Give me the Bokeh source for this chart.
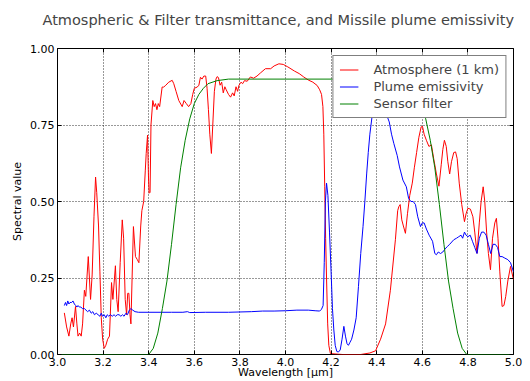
from bokeh.plotting import figure
from bokeh.models import Range1d, LinearAxis, FixedTicker, NumeralTickFormatter, Legend, LegendItem
from bokeh.embed import file_html
from bokeh.resources import INLINE

# ---------------- data ----------------
atm_wl = [3.030, 3.040, 3.050, 3.058, 3.064, 3.070, 3.079, 3.085, 3.090, 3.097, 3.104, 3.110, 3.118, 3.124,
          3.135, 3.145, 3.152, 3.160, 3.167, 3.172, 3.180, 3.186, 3.192, 3.198, 3.205, 3.212, 3.220, 3.228,
          3.237, 3.243, 3.254, 3.260, 3.266, 3.275, 3.284, 3.290, 3.297, 3.303, 3.308, 3.313, 3.318, 3.322,
          3.333, 3.342, 3.350, 3.357, 3.365, 3.370, 3.378, 3.385, 3.389, 3.395, 3.399, 3.402, 3.406, 3.410,
          3.418, 3.424, 3.430, 3.436, 3.442, 3.448, 3.459, 3.466, 3.475, 3.488, 3.503, 3.510, 3.520, 3.532,
          3.547, 3.555, 3.565, 3.575, 3.585, 3.593, 3.600, 3.613, 3.620, 3.627, 3.634, 3.642, 3.650, 3.656,
          3.662, 3.668, 3.675, 3.681, 3.688, 3.695, 3.700, 3.706, 3.713, 3.720, 3.727, 3.734, 3.740, 3.750,
          3.759, 3.768, 3.775, 3.783, 3.790, 3.796, 3.805, 3.812, 3.820, 3.832, 3.846, 3.860, 3.875, 3.890,
          3.912, 3.935, 3.950, 3.971, 3.990, 4.010, 4.040, 4.060, 4.080, 4.100, 4.120, 4.139, 4.150, 4.158,
          4.164, 4.168, 4.172, 4.176, 4.180, 4.185, 4.190, 4.197, 4.250, 4.330, 4.370, 4.395, 4.417, 4.439,
          4.460, 4.482, 4.492, 4.497, 4.503, 4.510, 4.517, 4.526, 4.535, 4.545, 4.556, 4.565, 4.575, 4.585,
          4.595, 4.601, 4.608, 4.618, 4.629, 4.640, 4.650, 4.662, 4.673, 4.683, 4.690, 4.697, 4.705, 4.712,
          4.720, 4.728, 4.738, 4.746, 4.753, 4.762, 4.773, 4.785, 4.792, 4.800, 4.811, 4.822, 4.830, 4.840,
          4.850, 4.858, 4.867, 4.874, 4.882, 4.890, 4.899, 4.908, 4.918, 4.925, 4.932, 4.940, 4.950, 4.958,
          4.966, 4.975, 4.987, 5.000]
atm_val = [0.136, 0.09, 0.06, 0.10, 0.12, 0.09, 0.157, 0.10, 0.06, 0.07, 0.06, 0.10, 0.21, 0.19,
           0.32, 0.18, 0.26, 0.45, 0.58, 0.53, 0.42, 0.27, 0.12, 0.05, 0.02, 0.03, 0.05, 0.06,
           0.235, 0.18, 0.29, 0.18, 0.14, 0.30, 0.44, 0.38, 0.18, 0.13, 0.20, 0.20, 0.13, 0.10,
           0.418, 0.32, 0.31, 0.30, 0.42, 0.47, 0.50, 0.60, 0.657, 0.717, 0.58, 0.527, 0.53, 0.75,
           0.83, 0.81, 0.82, 0.80, 0.82, 0.81, 0.874, 0.874, 0.88, 0.89, 0.896, 0.885, 0.86, 0.83,
           0.81, 0.83, 0.82, 0.81, 0.82, 0.85, 0.87, 0.874, 0.88, 0.906, 0.90, 0.91, 0.91, 0.87,
           0.80, 0.72, 0.657, 0.75, 0.86, 0.90, 0.908, 0.905, 0.88, 0.89, 0.855, 0.875, 0.865, 0.85,
           0.841, 0.855, 0.845, 0.875, 0.86, 0.88, 0.89, 0.885, 0.895, 0.893, 0.907, 0.903, 0.91, 0.92,
           0.934, 0.934, 0.943, 0.95, 0.948, 0.94, 0.926, 0.918, 0.907, 0.897, 0.89, 0.879, 0.865, 0.85,
           0.81, 0.72, 0.55, 0.38, 0.25, 0.10, 0.03, 0.003, 0.0, 0.0, 0.005, 0.012, 0.05, 0.10,
           0.21, 0.375, 0.47, 0.483, 0.49, 0.44, 0.42, 0.396, 0.46, 0.52, 0.56, 0.61, 0.66, 0.71,
           0.744, 0.745, 0.72, 0.70, 0.68, 0.685, 0.64, 0.59, 0.55, 0.62, 0.67, 0.70, 0.68, 0.63,
           0.59, 0.63, 0.66, 0.662, 0.64, 0.56, 0.49, 0.434, 0.46, 0.478, 0.475, 0.45, 0.40, 0.331,
           0.43, 0.50, 0.548, 0.50, 0.40, 0.33, 0.277, 0.38, 0.43, 0.445, 0.38, 0.27, 0.157, 0.16,
           0.19, 0.24, 0.288, 0.244]

plume_wl = [3.030, 3.035, 3.040, 3.045, 3.050, 3.055, 3.062, 3.068, 3.074, 3.080, 3.085, 3.090, 3.096, 3.102,
            3.110, 3.118, 3.125, 3.132, 3.140, 3.148, 3.155, 3.162, 3.170, 3.178, 3.186, 3.192, 3.198, 3.205,
            3.212, 3.218, 3.225, 3.232, 3.240, 3.248, 3.255, 3.262, 3.270, 3.278, 3.285, 3.292, 3.300, 3.307,
            3.315, 3.322, 3.330, 3.340, 3.355, 3.400, 3.500, 3.550, 3.570, 3.580, 3.650, 3.750, 3.850, 3.900,
            3.950, 4.000, 4.050, 4.100, 4.130, 4.150, 4.158, 4.165, 4.170, 4.175, 4.180, 4.186, 4.193, 4.200,
            4.206, 4.212, 4.218, 4.225, 4.232, 4.240, 4.248, 4.256, 4.263, 4.270, 4.276, 4.283, 4.290, 4.300,
            4.310, 4.320, 4.330, 4.340, 4.348, 4.356, 4.363, 4.370, 4.380, 4.390, 4.400, 4.415, 4.430, 4.440,
            4.455, 4.465, 4.475, 4.490, 4.500, 4.515, 4.530, 4.540, 4.550, 4.560, 4.570, 4.580, 4.592, 4.600,
            4.608, 4.618, 4.630, 4.645, 4.655, 4.662, 4.670, 4.680, 4.690, 4.700, 4.710, 4.720, 4.738, 4.750,
            4.760, 4.770, 4.777, 4.785, 4.792, 4.800, 4.810, 4.820, 4.830, 4.840, 4.850, 4.860, 4.870, 4.880,
            4.890, 4.900, 4.910, 4.920, 4.930, 4.940, 4.950, 4.962, 4.975, 4.987, 5.000]
plume_val = [0.16, 0.17, 0.16, 0.175, 0.165, 0.17, 0.17, 0.175, 0.165, 0.16, 0.155, 0.16, 0.155, 0.155,
             0.15, 0.15, 0.145, 0.14, 0.145, 0.135, 0.14, 0.13, 0.135, 0.13, 0.125, 0.135, 0.125, 0.13,
             0.12, 0.13, 0.125, 0.13, 0.125, 0.13, 0.125, 0.13, 0.13, 0.125, 0.13, 0.125, 0.135, 0.13,
             0.145, 0.15, 0.145, 0.14, 0.138, 0.138, 0.138, 0.138, 0.14, 0.137, 0.138, 0.138, 0.14, 0.142,
             0.142, 0.143, 0.145, 0.145, 0.143, 0.142, 0.148, 0.16, 0.30, 0.50, 0.56, 0.52, 0.40, 0.27,
             0.15, 0.08, 0.03, 0.01, 0.008, 0.015, 0.05, 0.092, 0.06, 0.035, 0.03, 0.04, 0.05, 0.08,
             0.12, 0.222, 0.33, 0.418, 0.50, 0.59, 0.66, 0.72, 0.78, 0.81, 0.82, 0.82, 0.81, 0.79,
             0.76, 0.72, 0.69, 0.65, 0.613, 0.57, 0.548, 0.51, 0.50, 0.50, 0.49, 0.45, 0.418, 0.43,
             0.43, 0.41, 0.39, 0.37, 0.33, 0.326, 0.335, 0.33, 0.335, 0.345, 0.353, 0.36, 0.375, 0.38,
             0.385, 0.39, 0.38, 0.40, 0.39, 0.385, 0.39, 0.37, 0.35, 0.33, 0.38, 0.40, 0.40, 0.39,
             0.36, 0.33, 0.36, 0.36, 0.35, 0.32, 0.32, 0.315, 0.31, 0.30, 0.27]

filter_wl = [3.00, 3.40, 3.42, 3.44, 3.46, 3.48, 3.50, 3.52, 3.54, 3.56, 3.58, 3.60, 3.62, 3.64, 3.66, 3.70,
             3.75, 4.45, 4.495, 4.535, 4.555, 4.575, 4.595, 4.615, 4.635, 4.655, 4.675, 4.695, 4.715, 4.735,
             4.755, 4.775, 4.795, 5.00]
filter_val = [0.0, 0.0, 0.02, 0.07, 0.15, 0.24, 0.36, 0.49, 0.61, 0.70, 0.77, 0.82, 0.85, 0.87, 0.885, 0.895,
              0.90, 0.90, 0.895, 0.885, 0.87, 0.85, 0.82, 0.77, 0.70, 0.61, 0.49, 0.36, 0.24, 0.15,
              0.07, 0.02, 0.0, 0.0]

x_ticks = [3.0, 3.2, 3.4, 3.6, 3.8, 4.0, 4.2, 4.4, 4.6, 4.8, 5.0]
y_ticks = [0.0, 0.25, 0.5, 0.75, 1.0]

series_labels = ["Atmosphere (1 km)", "Plume emissivity", "Sensor filter"]
series_colors = ["#ff0000", "#0000ff", "#008000"]

FONT = "DejaVu Sans"

# ---------------- figure ----------------
p = figure(width=530, height=381, output_backend="svg", toolbar_location=None,
           x_range=Range1d(3.0, 5.0), y_range=Range1d(0.0, 1.0),
           min_border_left=57, min_border_right=17, min_border_top=48, min_border_bottom=26)
p.background_fill_color = "white"
p.border_fill_color = "white"
p.outline_line_color = "black"
p.outline_line_width = 1

p.title.text = "Atmospheric & Filter transmittance, and Missile plume emissivity"
p.title.text_font = FONT
p.title.text_font_size = "14.5px"
p.title.text_font_style = "normal"
p.title.align = "left"
p.title.offset = -15
p.title.standoff = 0

xt = FixedTicker(ticks=x_ticks)
yt = FixedTicker(ticks=y_ticks)

for ax in p.xaxis:
    ax.ticker = xt
    ax.formatter = NumeralTickFormatter(format="0.0")
    ax.axis_label = "Wavelength [μm]"
    ax.axis_label_standoff = -3
    ax.major_label_standoff = 3
for ax in p.yaxis:
    ax.ticker = yt
    ax.formatter = NumeralTickFormatter(format="0.00")
    ax.axis_label = "Spectral value"
    ax.axis_label_standoff = 3
    ax.major_label_standoff = 3

for ax in list(p.xaxis) + list(p.yaxis):
    ax.major_tick_in = 4
    ax.major_tick_out = 0
    ax.minor_tick_line_color = None
    ax.axis_line_color = None
    ax.major_tick_line_color = "black"
    ax.major_label_text_font = FONT
    ax.major_label_text_font_size = "11px"
    ax.major_label_text_color = "black"
    ax.axis_label_text_font = FONT
    ax.axis_label_text_font_size = "11px"
    ax.axis_label_text_font_style = "normal"
    ax.axis_label_text_color = "black"

# tick marks on the top and right sides (no labels drawn there)
top_ax = LinearAxis(ticker=xt, major_label_text_font_size="1px", major_label_text_color=None,
                    axis_line_color=None, major_tick_in=4, major_tick_out=0,
                    minor_tick_line_color=None, major_label_standoff=0)
right_ax = LinearAxis(ticker=yt, major_label_text_font_size="1px", major_label_text_color=None,
                      axis_line_color=None, major_tick_in=4, major_tick_out=0,
                      minor_tick_line_color=None, major_label_standoff=0)
p.add_layout(top_ax, "above")
p.add_layout(right_ax, "right")

# invisible spacer that keeps the gap between the title and the frame
spacer_ax = LinearAxis(ticker=xt, major_label_text_font_size="1px", major_label_text_color=None,
                       axis_line_color=None, major_tick_in=-3, major_tick_out=21,
                       major_tick_line_color="white", minor_tick_line_color=None,
                       major_label_standoff=0)
p.add_layout(spacer_ax, "above")

p.xgrid.ticker = xt
p.ygrid.ticker = yt
for g in (p.xgrid, p.ygrid):
    g.grid_line_color = "black"
    g.grid_line_dash = "1 2"
    g.grid_line_width = 1
    g.grid_line_alpha = 0.8

r_atm = p.line(atm_wl, atm_val, line_color=series_colors[0], line_width=1)
r_plume = p.line(plume_wl, plume_val, line_color=series_colors[1], line_width=1)
r_filter = p.line(filter_wl, filter_val, line_color=series_colors[2], line_width=1)

legend = Legend(items=[LegendItem(label=series_labels[0], renderers=[r_atm]),
                       LegendItem(label=series_labels[1], renderers=[r_plume]),
                       LegendItem(label=series_labels[2], renderers=[r_filter])],
                location="top_right")
legend.margin = 7
legend.padding = 6
legend.spacing = 2
legend.label_height = 15
legend.glyph_height = 15
legend.glyph_width = 19
legend.label_standoff = 15
legend.label_text_font = FONT
legend.label_text_font_size = "13px"
legend.border_line_color = "black"
legend.border_line_width = 1
legend.background_fill_color = "white"
legend.background_fill_alpha = 1.0
p.add_layout(legend)

open("out.html", "w").write(file_html(p, INLINE))
